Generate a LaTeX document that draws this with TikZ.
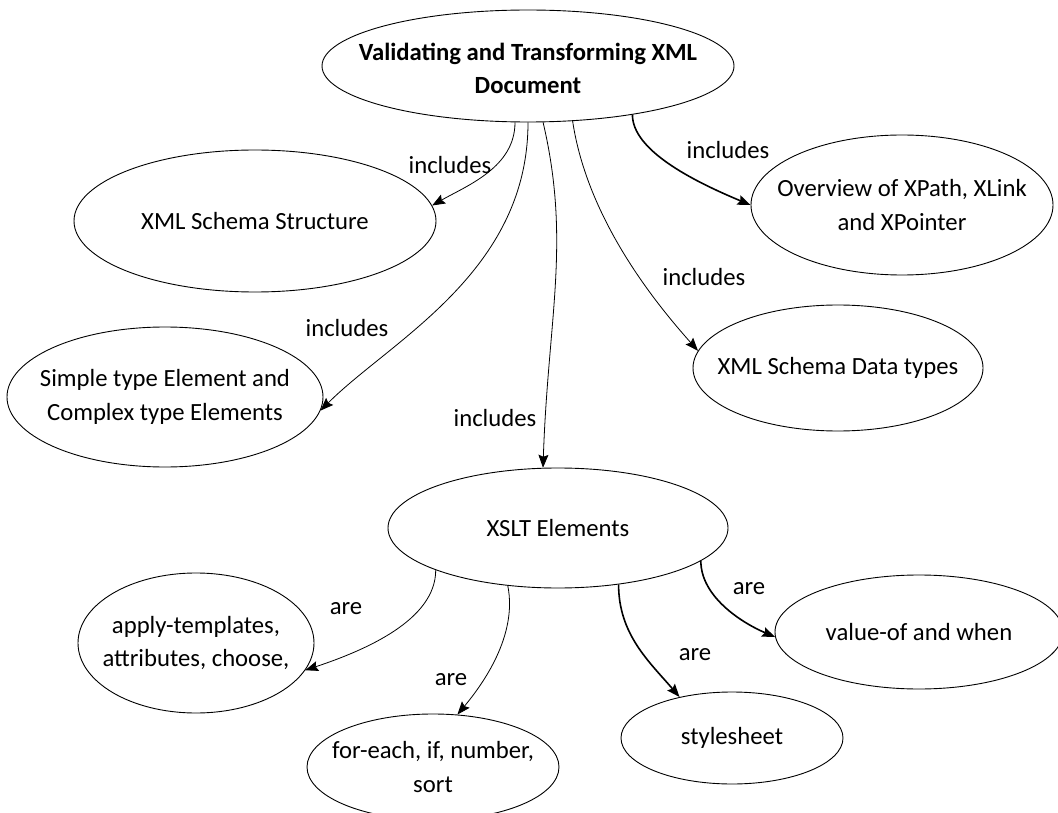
\documentclass[tikz,border=0pt]{standalone}
\usepackage{fontspec}
\setmainfont{Carlito}
\usetikzlibrary{shapes.geometric,arrows.meta,calc}
\begin{document}
\begin{tikzpicture}[x=1pt,y=-1pt,
  ell/.style 2 args={draw, ellipse, inner sep=0pt, minimum width=#1pt, minimum height=#2pt, line width=0.9pt},
  txt/.style={font=\fontsize{24.7}{33.5}\selectfont, align=center, inner sep=0pt},
  lbl/.style={font=\fontsize{24.7}{33.5}\selectfont, inner sep=0pt},
  link/.style={line width=0.8pt, -{Stealth[length=13pt,width=10pt,inset=2pt]}},
  boldlink/.style={link, line width=1.6pt}]
\useasboundingbox (0,0) rectangle (1058,813);
\clip (0,0) rectangle (1058,813);

% nodes
\node[ell={412}{112}] (T) at (528,66) {};
\node[txt, font=\fontsize{24.7}{32.5}\selectfont\bfseries] (Tt) at (528,68.5) {Validating and Transforming XML\\Document};
\node[ell={362}{142}] (XSS) at (255,221) {};
\node[txt] (XSSt) at (XSS.center) {XML Schema Structure};
\node[ell={316}{140}] (S) at (165,397) {};
\node[txt] (St) at (S.center) {Simple type Element and\\Complex type Elements};
\node[ell={340}{120}] (X) at (558,528) {};
\node[txt] (Xt) at (X.center) {XSLT Elements};
\node[ell={290}{126}] (D) at (838,368) {};
\node[txt] (Dt) at (D.center) {XML Schema Data types};
\node[ell={302}{140}] (O) at (902,205) {};
\node[txt] (Ot) at (O.center) {Overview of XPath, XLink\\and XPointer};
\node[ell={236}{140}] (A) at (196,643) {};
\node[txt] (At) at (A.center) {apply-templates,\\attributes, choose,};
\node[ell={252}{106}] (F) at (433,767) {};
\node[txt] (Ft) at (F.center) {for-each, if, number,\\sort};
\node[ell={222}{92}] (SS) at (732,738) {};
\node[txt] (SSt) at (SS.center) {stylesheet};
\node[ell={288}{114}] (V) at (919,632) {};
\node[txt] (Vt) at (V.center) {value-of and when};

% connectors
\draw[link] (T.-103) .. controls +(0,45) and +(35,-20) .. (XSS.5);
\draw[link] (T.-90) .. controls +(0,150) and +(70,-70) .. (S.-5);
\draw[link] (T.-75) .. controls +(28,120) and +(5,-150) .. (X.104);
\draw[link] (T.-51) .. controls +(15,100) and +(-40,-45) .. (D.173);
\draw[boldlink] (T.-25) .. controls +(0,35) and +(-60,-25) .. (O.180);

\draw[link] (X.-161) .. controls +(0,50) and +(60,-20) .. (A.-14);
\draw[link] (X.-131) .. controls +(10,50) and +(25,-30) .. (F.65);
\draw[boldlink] (X.-43) .. controls +(0,50) and +(-30,-35) .. (SS.142);
\draw[boldlink] (X.-13) .. controls +(0,35) and +(-35,-15) .. (V.182);

% labels
\node[lbl] (l1) at (450,165) {includes};
\node[lbl] (l2) at (347,328) {includes};
\node[lbl] (l3) at (495,418) {includes};
\node[lbl] (l4) at (704,277) {includes};
\node[lbl] (l5) at (728,150) {includes};
\node[lbl] (l6) at (346,609) {are};
\node[lbl] (l7) at (451,680) {are};
\node[lbl] (l8) at (695,655) {are};
\node[lbl] (l9) at (749,589) {are};
\end{tikzpicture}
\end{document}
